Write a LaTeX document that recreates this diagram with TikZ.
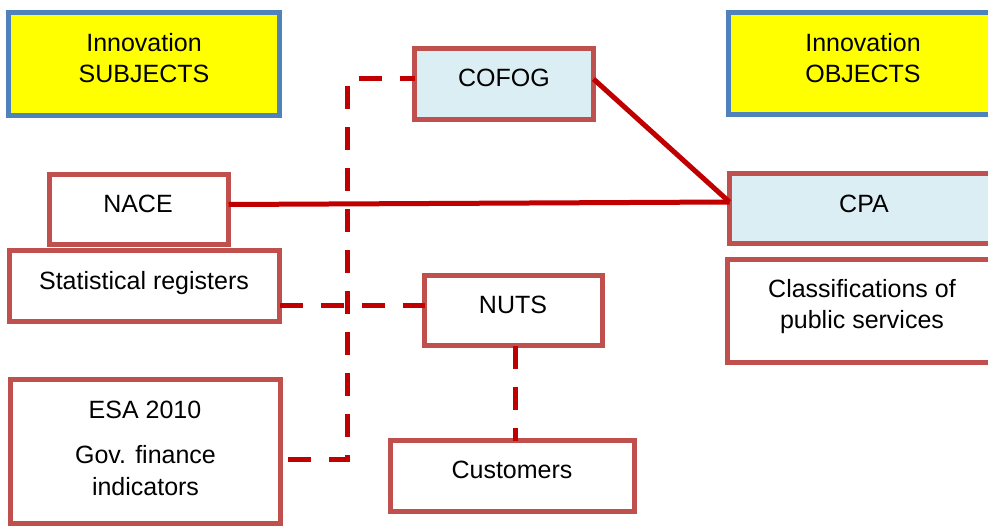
\documentclass[tikz,border=0pt]{standalone}
\usepackage{fontspec}
\setmainfont{Liberation Sans}
\usetikzlibrary{calc}
\definecolor{boxred}{HTML}{C0504D}
\definecolor{linered}{HTML}{C00000}
\definecolor{boxblue}{HTML}{4F81BD}
\definecolor{lightblue}{HTML}{DBEEF4}
\definecolor{yel}{HTML}{FFFF00}
\tikzset{
  box/.style={draw=boxred, line width=5pt, fill=white, inner sep=0pt, outer sep=0pt},
  headbox/.style={draw=boxblue, line width=5pt, fill=yel, inner sep=0pt, outer sep=0pt},
  bluebox/.style={box, fill=lightblue},
  txt/.style={anchor=base, inner sep=0pt, font=\fontsize{25}{30}\selectfont},
  solidline/.style={draw=linered, line width=5pt},
  dashline/.style={draw=linered, line width=5pt, dash pattern=on 23pt off 18pt},
}
\begin{document}
\begin{tikzpicture}[x=1pt,y=-1pt]
\useasboundingbox (0,0) rectangle (988,527);
\clip (0,0) rectangle (988,527);
\fill[white] (0,0) rectangle (988,527);
% boxes
\node[headbox, minimum width=271pt, minimum height=103pt] (SUBJ) at (144,64) {};
\node[headbox, minimum width=271pt, minimum height=102pt] (OBJ) at (864,63.5) {};
\node[bluebox, minimum width=179pt, minimum height=71pt] (COFOG) at (504,84) {};
\node[box, minimum width=179pt, minimum height=70pt] (NACE) at (139,209.5) {};
\node[box, minimum width=270pt, minimum height=71pt] (STAT) at (144.5,286) {};
\node[bluebox, minimum width=271pt, minimum height=70pt] (CPA) at (865,208.5) {};
\node[box, minimum width=271pt, minimum height=103pt] (CLASS) at (863,311) {};
\node[box, minimum width=178pt, minimum height=70pt] (NUTS) at (513.5,310.5) {};
\node[box, minimum width=244pt, minimum height=71pt] (CUST) at (512.5,476) {};
\node[box, minimum width=270pt, minimum height=144pt] (ESA) at (145.5,451.5) {};
% connectors
\draw[solidline] ($(COFOG.east)+(0,-5)$) -- ($(CPA.west)+(0,-6.5)$);
\draw[solidline] ($(NACE.east)+(0,-5)$) -- ($(CPA.west)+(0,-6.5)$);
\draw[dashline] ($(STAT.east)+(0,19)$) -- ($(NUTS.west)+(0,-5.5)$);
\draw[dashline] ($(ESA.east)+(7,7.5)$) -- ++(59.5,0) |- ($(COFOG.west)+(0,-5)$);
\draw[dashline] ($(NUTS.south)+(1.5,0)$) -- ($(CUST.north)+(2.5,0)$);
% texts
\node[txt] (tSUBJa) at (144,52) {Innovation};
\node[txt] (tSUBJb) at (144,83) {SUBJECTS};
\node[txt] (tOBJa) at (863,52) {Innovation};
\node[txt] (tOBJb) at (863,83) {OBJECTS};
\node[txt] (tCOFOG) at (504,86) {COFOG};
\node[txt] (tNACE) at (138,212) {NACE};
\node[txt] (tSTAT) at (144,289) {Statistical registers};
\node[txt] (tCPA) at (864,212) {CPA};
\node[txt] (tCLASSa) at (862,297) {Classifications of};
\node[txt] (tCLASSb) at (862,328) {public services};
\node[txt] (tNUTS) at (513,313) {NUTS};
\node[txt] (tCUST) at (512,478) {Customers};
\node[txt] (tESAa) at (145,418) {ESA 2010};
\node[txt] (tESAb) at (145.5,463) {Gov. finance};
\node[txt] (tESAc) at (145.5,495) {indicators};
\end{tikzpicture}
\end{document}
